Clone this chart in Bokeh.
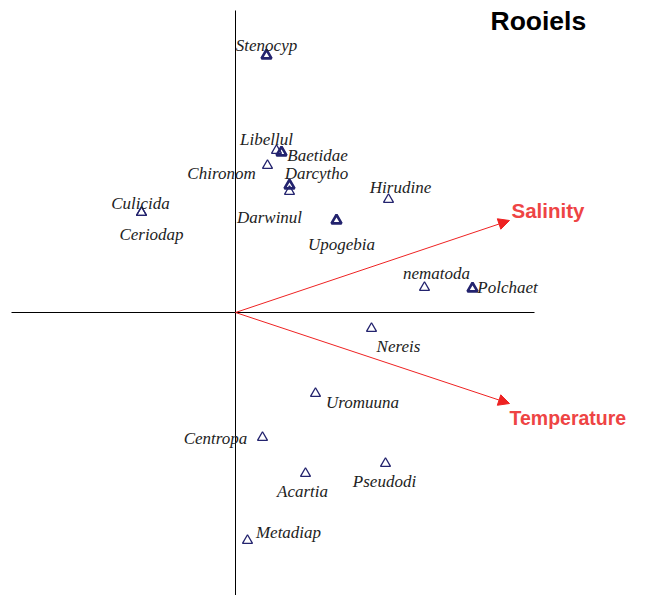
from bokeh.plotting import figure
from bokeh.models import ColumnDataSource, Range1d, Arrow, NormalHead, Label
from bokeh.core.properties import value
from bokeh.embed import file_html
from bokeh.resources import INLINE

# species scores (CCA axis 1, axis 2)
species = ["Stenocyp", "Libellul", "Baetidae", "Chironom", "Darcytho", "Darwinul",
           "Hirudine", "Culicida", "Ceriodap", "Upogebia", "nematoda", "Polchaet",
           "Nereis", "Uromuuna", "Centropa", "Pseudodi", "Acartia", "Metadiap"]
axis1 = [0.31, 0.41, 0.46, 0.32, 0.54, 0.54, 1.53, -0.94, -0.94, 1.01, 1.89, 2.37,
         1.36, 0.80, 0.27, 1.50, 0.70, 0.12]
axis2 = [2.57, 1.62, 1.60, 1.47, 1.27, 1.21, 1.13, 1.00, 1.00, 0.92, 0.25, 0.24,
         -0.16, -0.81, -1.25, -1.51, -1.61, -2.28]
overlapping = ["Stenocyp", "Baetidae", "Darcytho", "Upogebia", "Polchaet"]

# environmental variable biplot arrows
env_vars = ["Salinity", "Temperature"]
env_axis1 = [2.74, 2.74]
env_axis2 = [0.92, -0.91]

title_text = "Rooiels"

# label placement (screen-pixel offsets from point)
label_dx = [0, -10, 36, -46, 27, -20, 12, -1, 10, 5, 12, 35, 27, 47, -47, -1, -3, 41]
label_dy = [-10, -11, 3, 8, -12, 26, -12, -9, 22, 24, -14, -1, 18, 9, 1, 18, 18, -8]

W, H = 630, 595
p = figure(width=W, height=H, output_backend="svg", toolbar_location=None,
           x_range=Range1d(-2.35, 3.95), y_range=Range1d(-2.83, 3.12),
           min_border=0, outline_line_color=None)
p.axis.visible = False
p.grid.visible = False
p.background_fill_color = "white"

# axes through origin
p.segment(x0=[-2.24, 0], y0=[0, 3.02], x1=[2.99, 0], y1=[0, -3.2],
          line_color="black", line_width=1)

# arrows
for ex, ey in zip(env_axis1, env_axis2):
    p.add_layout(Arrow(end=NormalHead(size=11, fill_color="#ee2222", line_color="#ee2222"),
                       x_start=0, y_start=0, x_end=ex, y_end=ey,
                       line_color="#ee2222", line_width=1))

env_src = ColumnDataSource(dict(x=env_axis1, y=env_axis2, t=env_vars,
                                dx=[2, 0], dy=[-10, 14],
                                fs=["20.5px", "19.5px"]))
p.text(x="x", y="y", text="t", x_offset="dx", y_offset="dy", source=env_src,
       text_font=value("Liberation Sans"), text_font_style="bold",
       text_font_size="fs", text_color="#ee4444",
       text_align="left", text_baseline="middle")

lw = [2.6 if s in overlapping else 1.3 for s in species]
src = ColumnDataSource(dict(x=axis1, y=axis2, name=species, lw=lw,
                            dx=label_dx, dy=label_dy))
p.scatter(x="x", y="y", source=src, marker="triangle", size=10,
          fill_color=None, line_color="#23236e", line_width="lw")
p.text(x="x", y="y", text="name", x_offset="dx", y_offset="dy", source=src,
       text_font=value("Liberation Serif"), text_font_style="italic",
       text_font_size="17px", text_color="#222222",
       text_align="center", text_baseline="middle")

p.add_layout(Label(x=490, y=H - 20, x_units="screen", y_units="screen",
                   text=title_text, text_font="Liberation Sans", text_font_style="bold",
                   text_font_size="26.5px", text_color="black",
                   text_align="left", text_baseline="middle"))

open("out.html", "w").write(file_html(p, INLINE))
